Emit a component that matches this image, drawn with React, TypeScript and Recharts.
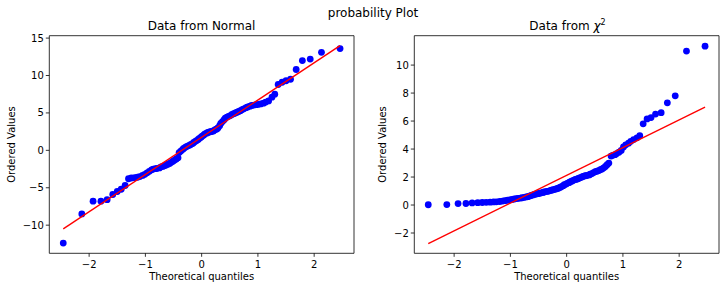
import { ScatterChart, Scatter, XAxis, YAxis, ReferenceArea, Label } from 'recharts';

// theoretical quantiles (x) shared by both panels, n = 100
const quantiles = [
	-2.46, -2.13, -1.93, -1.79, -1.68, -1.58, -1.5, -1.43, -1.36, -1.3,
	-1.25, -1.19, -1.14, -1.1, -1.05, -1.01, -0.97, -0.93, -0.89, -0.86,
	-0.82, -0.79, -0.75, -0.72, -0.69, -0.66, -0.63, -0.6, -0.57, -0.54,
	-0.51, -0.48, -0.45, -0.42, -0.4, -0.37, -0.34, -0.32, -0.29, -0.27,
	-0.24, -0.21, -0.19, -0.16, -0.14, -0.11, -0.09, -0.06, -0.04, -0.01,
	0.01, 0.04, 0.06, 0.09, 0.11, 0.14, 0.16, 0.19, 0.21, 0.24,
	0.27, 0.29, 0.32, 0.34, 0.37, 0.4, 0.42, 0.45, 0.48, 0.51,
	0.54, 0.57, 0.6, 0.63, 0.66, 0.69, 0.72, 0.75, 0.79, 0.82,
	0.86, 0.89, 0.93, 0.97, 1.01, 1.05, 1.1, 1.14, 1.19, 1.25,
	1.3, 1.36, 1.43, 1.5, 1.58, 1.68, 1.79, 1.93, 2.13, 2.46,
];

const normalValues = [
	-12.4, -8.5, -6.8, -6.8, -6.6, -5.9, -5.5, -5.2, -4.7, -3.8,
	-3.7, -3.65, -3.6, -3.5, -3.35, -3.2, -3.0, -2.8, -2.6, -2.5,
	-2.45, -2.4, -2.35, -2.2, -2.15, -2.05, -1.95, -1.85, -1.75, -1.6,
	-1.45, -1.3, -1.15, -1.0, -0.3, -0.1, 0.1, 0.25, 0.4, 0.5,
	0.6, 0.7, 0.8, 0.9, 1.05, 1.2, 1.3, 1.45, 1.6, 1.75,
	1.9, 2.05, 2.2, 2.3, 2.4, 2.45, 2.5, 2.55, 2.6, 2.75,
	2.85, 3.0, 3.3, 3.6, 3.85, 4.1, 4.3, 4.45, 4.55, 4.65,
	4.8, 4.9, 5.0, 5.1, 5.2, 5.3, 5.45, 5.55, 5.7, 5.8,
	5.9, 6.0, 6.05, 6.1, 6.15, 6.2, 6.3, 6.45, 6.6, 7.1,
	7.5, 8.8, 9.1, 9.3, 9.5, 10.8, 12.0, 12.2, 13.1, 13.6,
];

const chi2Values = [
	0.02, 0.03, 0.1, 0.11, 0.15, 0.17, 0.18, 0.19, 0.2, 0.22,
	0.23, 0.25, 0.28, 0.31, 0.34, 0.37, 0.4, 0.43, 0.46, 0.48,
	0.5, 0.52, 0.55, 0.58, 0.6, 0.64, 0.68, 0.72, 0.76, 0.79,
	0.81, 0.84, 0.87, 0.9, 0.93, 0.96, 0.98, 1.0, 1.03, 1.06,
	1.09, 1.12, 1.15, 1.18, 1.22, 1.27, 1.32, 1.38, 1.45, 1.5,
	1.55, 1.6, 1.65, 1.7, 1.75, 1.8, 1.83, 1.86, 1.9, 1.95,
	2.0, 2.04, 2.08, 2.1, 2.12, 2.15, 2.2, 2.25, 2.32, 2.38,
	2.42, 2.46, 2.52, 2.58, 2.66, 2.76, 2.88, 3.0, 3.5, 3.55,
	3.6, 3.68, 3.78, 3.9, 4.15, 4.3, 4.42, 4.55, 4.68, 4.8,
	4.95, 5.8, 6.15, 6.25, 6.5, 6.6, 7.3, 7.8, 11.0, 11.35,
];

// least squares fit line endpoints
const fitX = [-2.46, 2.46];
const normalFit = [-10.5, 14.0];
const chi2Fit = [-2.75, 7.0];

const xTicks = [-2, -1, 0, 1, 2];
const normalTicks = [-10, -5, 0, 5, 10, 15];
const chi2Ticks = [-2, 0, 2, 4, 6, 8, 10];

const X_DOMAIN: [number, number] = [-2.708, 2.708];
const FONT = "'DejaVu Sans', sans-serif";

const fmt = (v: number) => (v < 0 ? `\u2212${Math.abs(v)}` : `${v}`);

const Dot = (props: any) => <circle cx={props.cx} cy={props.cy} r={3.4} fill='#0000ff' />;
const NoDot = () => <g />;

type PanelProps = {
	values: number[];
	fit: number[];
	yTicks: number[];
	yDomain: [number, number];
	width: number;
	marginLeft: number;
	labelOffset: number;
};

function Panel({ values, fit, yTicks, yDomain, width, marginLeft, labelOffset }: PanelProps) {
	const points = quantiles.map((x, i) => ({ x, y: values[i] }));
	const line = fitX.map((x, i) => ({ x, y: fit[i] }));
	const tickStyle = { fontSize: 10, fill: '#000', fontFamily: FONT };
	return (
		<ScatterChart
			width={width}
			height={291}
			margin={{ top: 35.7, right: 6, bottom: 7.7, left: marginLeft }}
		>
			<XAxis
				type='number'
				dataKey='x'
				domain={X_DOMAIN}
				ticks={xTicks}
				interval={0}
				allowDataOverflow
				axisLine={false}
				tickLine={{ stroke: '#000', strokeWidth: 0.8 }}
				tickSize={3.5}
				tickMargin={4.5}
				tick={tickStyle}
				tickFormatter={fmt}
				height={30}
			>
				<Label
					value='Theoretical quantiles'
					position='insideBottom'
					offset={3.5}
					style={{ fontSize: 10, fill: '#000', fontFamily: FONT }}
				/>
			</XAxis>
			<YAxis
				type='number'
				dataKey='y'
				domain={yDomain}
				ticks={yTicks}
				interval={0}
				allowDataOverflow
				axisLine={false}
				tickLine={{ stroke: '#000', strokeWidth: 0.8 }}
				tickSize={3.5}
				tickMargin={2}
				tick={tickStyle}
				tickFormatter={fmt}
				width={40}
			>
				<Label
					value='Ordered Values'
					angle={-90}
					position='insideLeft'
					offset={labelOffset}
					style={{ fontSize: 10, fill: '#000', fontFamily: FONT, textAnchor: 'middle' }}
				/>
			</YAxis>
			<Scatter data={points} shape={Dot} isAnimationActive={false} />
			<Scatter
				data={line}
				shape={NoDot}
				line={{ stroke: '#ff0000', strokeWidth: 1.4 }}
				isAnimationActive={false}
			/>
			<ReferenceArea
				x1={X_DOMAIN[0]}
				x2={X_DOMAIN[1]}
				y1={yDomain[0]}
				y2={yDomain[1]}
				fill='none'
				stroke='#000'
				strokeWidth={0.8}
			/>
		</ScatterChart>
	);
}

export default function App() {
	const titleStyle = {
		position: 'absolute' as const,
		fontSize: 12,
		lineHeight: '14px',
		color: '#000',
		whiteSpace: 'nowrap' as const,
		transform: 'translateX(-50%)',
	};
	return (
		<div
			style={{
				position: 'absolute',
				left: 0,
				top: 0,
				width: 725,
				height: 291,
				background: '#fff',
				fontFamily: FONT,
				overflow: 'hidden',
			}}
		>
			<div style={{ ...titleStyle, left: 373, top: 6.3 }}>probability Plot</div>
			<div style={{ ...titleStyle, left: 201.5, top: 18.7 }}>Data from Normal</div>
			<div style={{ ...titleStyle, left: 567.5, top: 18.7 }}>
				Data from <span style={{ fontStyle: 'italic' }}>χ</span>
				<span style={{ fontSize: 8, position: 'relative', top: -5 }}>2</span>
			</div>
			<div style={{ position: 'absolute', left: 0, top: 0 }}>
				<Panel
					values={normalValues}
					fit={normalFit}
					yTicks={normalTicks}
					yDomain={[-13.76, 15.32]}
					width={360}
					marginLeft={9.3}
					labelOffset={2.2}
				/>
			</div>
			<div style={{ position: 'absolute', left: 360, top: 0 }}>
				<Panel
					values={chi2Values}
					fit={chi2Fit}
					yTicks={chi2Ticks}
					yDomain={[-3.45, 12.1]}
					width={365}
					marginLeft={14.3}
					labelOffset={8}
				/>
			</div>
		</div>
	);
}
